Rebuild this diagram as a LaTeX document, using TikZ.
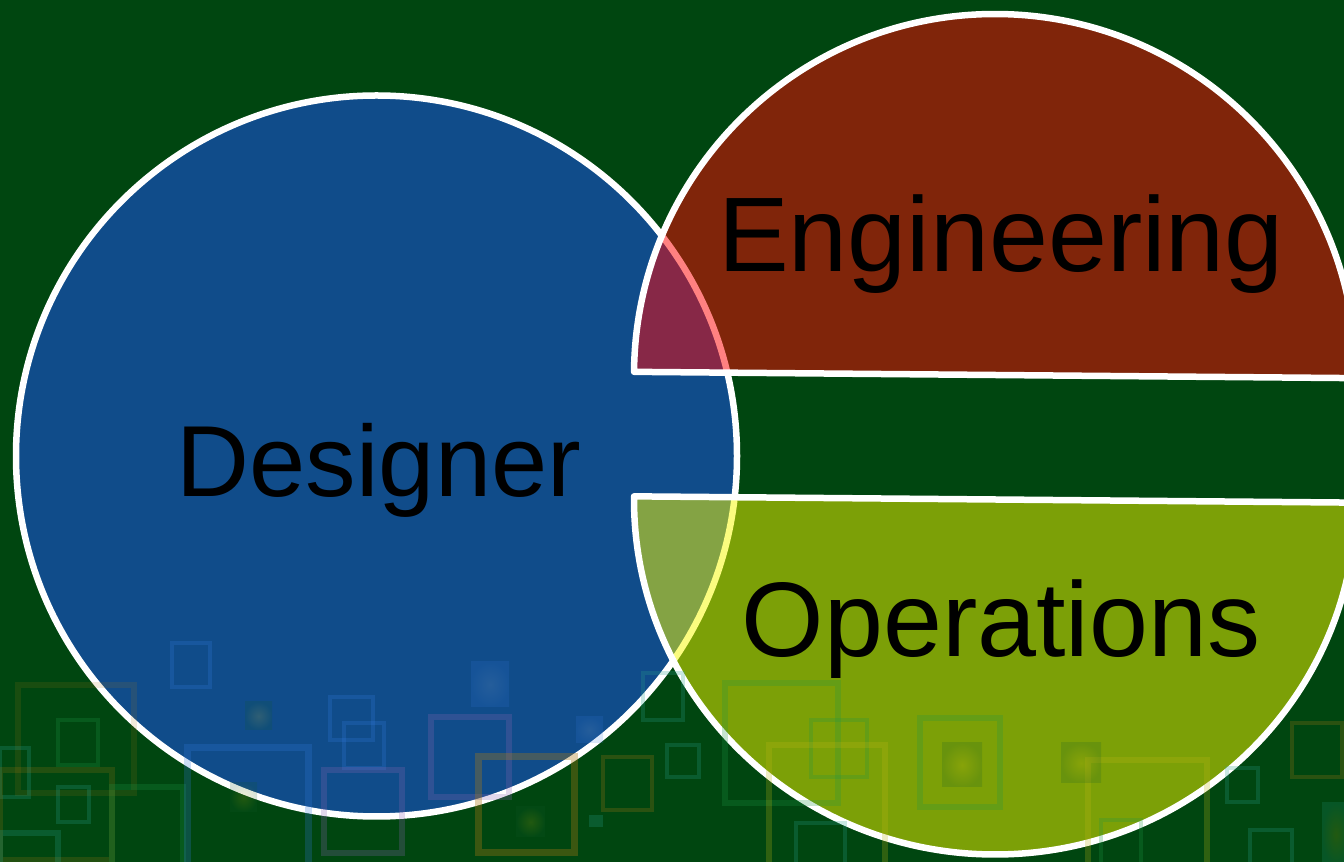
\documentclass[tikz,border=0pt]{standalone}
\usepackage{fontspec}
\setmainfont{Liberation Sans}
\definecolor{bggreen}{RGB}{0,70,16}
\definecolor{dblue}{RGB}{16,76,138}
\definecolor{engred}{RGB}{255,5,5}
\definecolor{opyel}{RGB}{248,250,0}
\definecolor{sqgreen}{RGB}{30,150,70}
\definecolor{sqteal}{RGB}{40,160,140}
\definecolor{sqorange}{RGB}{170,120,20}
\definecolor{sqblue}{RGB}{50,120,220}
\definecolor{sqpurple}{RGB}{140,100,180}
\definecolor{sqyellow}{RGB}{190,180,20}
\begin{document}
\begin{tikzpicture}[x=1pt,y=1pt,
  ring/.style={draw=white, line width=6.5pt, line join=round},
  label/.style={anchor=base, inner sep=0pt, text=black, font=\fontsize{106}{110}\selectfont},
  sq/.style={line width=4.5pt, draw opacity=0.25},
  glow/.style={inner color=sqyellow, outer color=sqgreen!60!black, opacity=0.18}]
\useasboundingbox (0,0) rectangle (1344,862);
\fill[bggreen] (0,0) rectangle (1344,862);

% Designer circle
\path[ring, fill=dblue] (376.5,406) circle[radius=360.5];
% Engineering half disc
\path[ring, fill=engred, fill opacity=0.5, rotate around={-0.5:(995,487)}]
  (634,487) arc[start angle=180, end angle=0, radius=361] -- cycle;
% Operations half disc
\path[ring, fill=opyel, fill opacity=0.5, rotate around={-0.5:(995,362.5)}]
  (634,362.5) arc[start angle=180, end angle=360, x radius=361, y radius=355] -- cycle;

\node[label, font=\fontsize{101}{105}\selectfont] (des) at (379,365) {Designer};
\node[label] (eng) at (1001,590) {Engineering};
\node[label] (ops) at (1001,205) {Operations};

% decorative squares (image coordinates)
\begin{scope}[yshift=862pt, yscale=-1]
\draw[sq, sqgreen] (58,720) rectangle (98,765);
\draw[sq, sqorange, line width=6pt, draw opacity=0.15] (18,685) rectangle (134,793);
\draw[sq, sqteal] (0,748) rectangle (29,797);
\draw[sq, sqorange, line width=6pt, draw opacity=0.2] (0,770) rectangle (112,860);
\draw[sq, sqteal] (58,787) rectangle (89,822);
\draw[sq, sqgreen, line width=6pt] (112,787) rectangle (183,866);
\draw[sq, sqblue, line width=7pt] (187,748) rectangle (308,866);
\draw[sq, sqblue] (172,643) rectangle (210,687);
\shade[glow] (245,702) rectangle (272,730);
\draw[sq, sqblue] (330,697) rectangle (373,740);
\draw[sq, sqblue] (344,723) rectangle (384,768);
\draw[sq, sqpurple, line width=6pt] (324,770) rectangle (402,853);
\shade[glow, inner color=sqblue!60!white, outer color=sqblue] (471,662) rectangle (509,707);
\draw[sq, sqpurple, line width=6pt] (431,717) rectangle (509,797);
\draw[sq, sqorange, line width=7pt, draw opacity=0.35] (478,757) rectangle (574,853);
\shade[glow] (516,807) rectangle (545,837);
\draw[sq, sqorange] (603,757) rectangle (652,810);
\draw[sq, sqteal] (667,745) rectangle (699,777);
\draw[sq, sqteal] (643,673) rectangle (683,720);
\shade[glow, inner color=sqblue!60!white, outer color=sqblue] (576,717) rectangle (603,743);
\draw[sq, sqteal, line width=6pt] (0,833) rectangle (58,866);
\shade[glow] (230,783) rectangle (257,812);
\fill[sqteal, opacity=0.25] (589,815) rectangle (603,827);
\draw[sq, sqgreen, line width=6pt] (725,683) rectangle (838,803);
\draw[sq, sqgreen] (811,720) rectangle (867,777);
\draw[sq, sqyellow, line width=6pt] (769,745) rectangle (885,866);
\draw[sq, sqgreen, line width=6pt] (920,718) rectangle (1000,807);
\shade[glow] (942,743) rectangle (982,787);
\draw[sq, sqyellow, line width=6pt] (1088,760) rectangle (1207,866);
\shade[glow] (1061,743) rectangle (1101,783);
\draw[sq, sqorange] (1292,723) rectangle (1342,777);
\draw[sq, sqteal] (1227,768) rectangle (1258,802);
\draw[sq, sqteal] (1250,830) rectangle (1292,866);
\shade[glow, inner color=sqyellow, outer color=sqteal] (1322,803) rectangle (1350,866);
\draw[sq, sqteal] (796,823) rectangle (845,866);
\draw[sq, sqgreen] (1101,820) rectangle (1141,866);
\end{scope}
\end{tikzpicture}
\end{document}
